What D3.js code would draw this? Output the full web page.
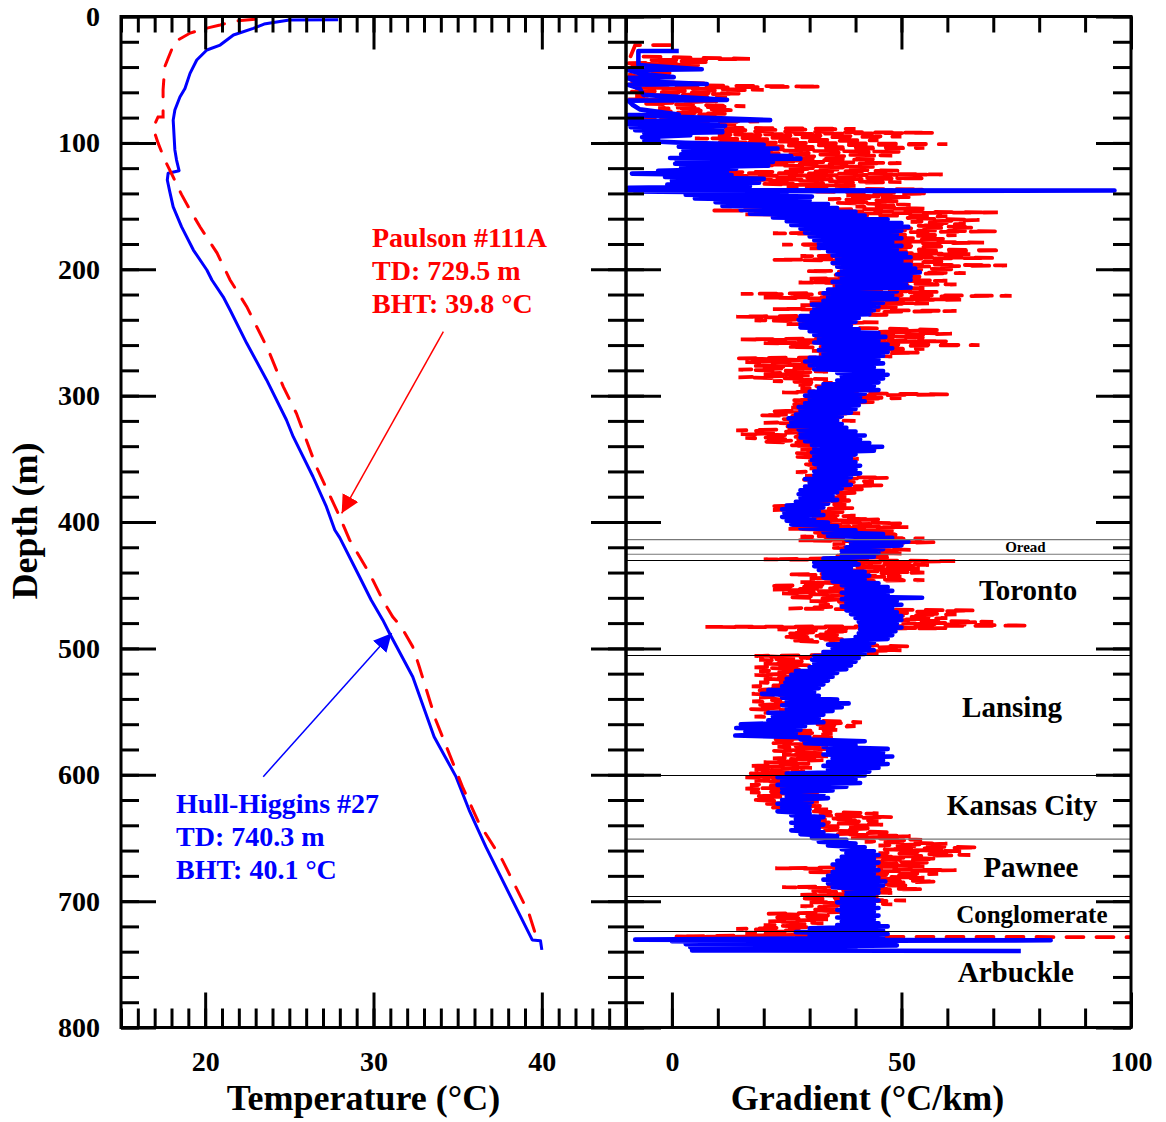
<!DOCTYPE html>
<html>
<head>
<meta charset="utf-8">
<script src="https://cdn.jsdelivr.net/npm/d3@7"></script>
<style>
  body { margin: 0; background: #fff; }
</style>
</head>
<body>
<div id="chart"></div>
<script>
// ---- data (depth in m first, value second) ----
const depthTicks = [0, 100, 200, 300, 400, 500, 600, 700, 800]
const tempTicks = [20, 30, 40]
const gradTicks = [0, 50, 100]

// temperature logs [depth, degC]
const hullTemp = [[2.5,27.9],[2.8,25.0],[6,23.5],[9.4,22.86],[14.6,21.68],[22.6,20.89],[26.5,20.1],[34.4,19.5],[45,19.1],[57,18.8],[63.7,18.5],[74,18.2],[82,18.1],[105.6,18.2],[113.6,18.3],[122,18.45],[124,17.8],[129.4,17.75],[138.8,17.9],[150.6,18.1],[166.5,18.6],[184.8,19.3],[200.6,20.1],[208.5,20.4],[221.8,21.07],[232.2,21.48],[258.6,22.47],[287.6,23.65],[319.3,24.83],[332.5,25.23],[364,26.4],[387.9,27.2],[406.3,27.7],[412.6,28.0],[443.3,29.17],[461.7,29.86],[477.5,30.55],[488,30.95],[522.4,32.33],[569.9,33.6],[601.5,34.9],[627.9,35.68],[656.9,36.67],[730.7,39.43],[731.3,39.92],[738.6,40.0]]

const paulsonTemp = [[2.2,22.96],[3.6,21.78],[6.7,20.89],[9.9,19.88],[13.1,19.11],[20,18.2],[33,17.8],[39.7,17.6],[58,17.5],[79.5,17.5],[79.5,17.2],[88.2,16.9],[100,17.2],[113.5,17.6],[127,18.1],[141,18.6],[150.7,19.0],[166.6,19.7],[187,20.7],[208.5,21.48],[229.6,22.47],[263.9,23.75],[292.9,24.64],[314,25.42],[356.2,26.6],[393.1,27.9],[414.2,28.58],[440.6,29.76],[461.7,30.55],[475,31.14],[482.8,31.64],[498.7,32.33],[514.5,32.72],[556.7,33.7],[609.4,35.28],[638.4,36.27],[667.4,37.65],[709.6,39.23],[729.4,39.7]]

// gradient logs [depth, degC/km]
const hullGrad = [[27.3,1.5],[27.3,-7.3],[38.4,-7.3],[41.8,6.5],[42.4,-9.5],[45.5,-6.5],[48,0.4],[48.6,-9.8],[51,-8],[53.4,7.6],[54,-9.5],[57,-7],[62,-6.2],[66,12],[66.6,-9.5],[70,-8.5],[73.5,-7],[77.5,1.5],[78,-9.5],[82,21.4],[82.8,-10],[84,10],[85,-10],[86.5,11.6],[87.5,-9],[89,11],[90,-8],[91.5,11],[92.5,-6],[94,4],[95.5,-6.5],[97,-3],[98.5,-6],
[100,3],[101.5,20],[103,1.5],[104.5,23],[106,2.5],[107.5,21],[109,2],[110.5,26],[112,-0.4],[112.5,28],[113.5,1],[115,22],[116.5,0.7],[118,21],[119.5,2],[120.5,14],[122,-3],[123,12],[124.3,-8.7],[125.5,13],[127,-1.5],[128.5,20],[130,0],[131.5,19],[133,-1],[134.3,17],[135.5,-9.5],[136.5,14],[137.5,-9.5],[137.7,96.4],[138.5,-8],[139.5,25],
[141,3],[142.5,30.5],[144,5],[145.5,30],[147,9.5],[148.5,34],[150,11],[151.5,36],[153,15],[154.5,40],[156,17],[157.5,42],[159,22],[160.5,47],[162,25],[163.5,50],[165,26],[166.5,51.5],[168,28],[169.5,50],[171,29],[172.5,49],[174,30],[175.5,50],[177,31],[178.5,48],[180,32],[181.5,50],[183,32],[184.5,49],[186,34],[187.5,51],[189,35],[190.5,52],[192,36],[193.5,50],[195,35],[196.5,52],[198,36],[199.5,53],
[201,37],[202.5,54],[204,36],[205.5,52],[207,37],[208.5,52],[210,35],[211.5,51],[213,36],[214.5,52],[216,34],[217.5,49],[219,33],[220.5,48],[222,34],[223.5,49],[225,33],[226.5,46],[228,30.5],[229.5,45],[231,31],[232.5,44],[234,30.5],[235.5,43],[237,28],[238.5,40.7],[240,27.6],[241.5,40],[243,28],[244.5,39],[246,28],[247.5,40.7],[249,30],[250.5,45],[252,31],[253.5,46.5],[255,32],[256.5,45],[258,31],[259.5,47],
[261,33],[262.5,48],[264,32],[265.5,47],[267,33],[268.5,46],[270,30],[271.5,45],[273,29],[274.5,46],[276,30],[277.5,44],[279,31],[280.5,46],[282,36],[283.5,47],[285,37],[286.5,46],[288,36],[289.5,45],[291,33],[292.5,44],[294,32],[295.5,45],[297,30],[298.5,42],
[300,29],[301.5,41],[303,30],[304.5,42],[306,29],[307.5,40.7],[309,27.6],[310.5,40],[312,28],[313.5,39],[315,27],[316.5,37],[318,25.4],[319.5,36],[321,26],[322.5,37],[324,25.5],[325.5,38],[327,27.6],[328.5,40],[330,28],[331.5,42],[333,28],[334.5,41],[336,29],[337.5,43],[339,30.5],[340.5,45.8],[342,31],[343.5,44],[345,30.5],[346.5,40],[348,31],[349.5,39],
[351,30.5],[352.5,40],[354,31],[355.5,41],[357,32],[358.5,40],[360,31],[361.5,41],[363,31],[364.5,39],[366,29],[367.5,38],[369,30],[370.5,39],[372,29],[373.5,37],[375,28],[376.5,36],[378,27.6],[379.5,35],[381,28],[382.5,36],[384,27],[385.5,34],[387,25],[388.5,33],[390,24],[391.5,32],[393,24.5],[394.5,33],[396,24],[397.5,31],[399,25],
[400.5,34],[402,26],[403.5,36],[405,28],[406.5,40],[408,33],[409.5,46],[411,34],[412.5,48],[414,38],[415.5,51.5],[417,39],[418.5,50],[420,38],[421.5,46],[423,37],[424.5,45],[426,37],[427.5,44],[429,33],[430.5,40],[432,31],[433.5,40.7],[435,31],[436.5,39],[438,32],[439.5,42],[441,33],[442.5,43],[444,33],[445.5,42],[447,35],[448.5,45],
[450,37],[451.5,47],[453,38],[454.5,48],[456,37],[457.5,47],[459,38],[460,54.5],[461,37],[462.5,49],[464,38],[465.5,50],[467,37],[468.5,48],[470,38],[471.5,49],[473,39],[474.5,50],[476,40],[477.5,50],[479,40.7],[480.5,49],[482,41],[483.5,50],[485,41],[486.5,48.7],[488,40.7],[489.5,48],[491,40],[492.5,47],[494,37],[495.5,44],[497,34],[498.5,43],
[500,35],[501.5,44],[503,33],[504.5,42],[506,31],[507.5,40.7],[509,30.5],[510.5,40],[512,31],[513.5,39],[515,30],[516.5,38],[518,27],[519.5,36],[521,26],[522.5,35],[524,25],[525.5,34],[527,24.7],[528.5,33],[530,24],[531.5,32],[533,21],[534.5,31],[536,19.6],[537.5,32],[539,24],[540.5,36],[542,25],[543.5,38.5],[545,24],[546.5,37],[548,25],[549.5,35],
[551,21],[552.5,33],[554,22],[555.5,32],[557,21],[558.5,33],[560,15],[561.5,29],[563,14],[564.5,28],[566,16],[567.5,27],[569,13.8],[570.5,30],[572,28],[573.5,42],[575,29],[576.5,40],[578,33],[579.5,47],[581,34],[582.5,46],[584,33],[585.5,48],[587,35],[588.5,46],[590,34],[591.5,47],[593,33],[594.5,45],[596,34],[597.5,43],[599,25],
[600.5,42],[602,23],[603.5,40],[605,24],[606.5,41],[608,23],[609.5,38],[611,24],[612.5,35],[614,24],[615.5,33],[617,25],[618.5,34],[620,24],[621.5,30.5],[623,23],[624.5,30],[626,24],[627.5,30],[629,23],[630.5,30],[632,26],[633.5,33],[635,27],[636.5,32],[638,26],[639.5,33],[641,27],[642.5,32],[644,26],[645.5,33],[647,28],[648.5,36],
[650,30.5],[651.5,38],[653,32],[654.5,40],[656,34],[657.5,42],[659,37],[660.5,44],[662,38],[663.5,45],[665,37],[666.5,44],[668,36],[669.5,45],[671,35],[672.5,44],[674,36],[675.5,45],[677,35],[678.5,44],[680,34],[681.5,45],[683,33],[684.5,46.5],[686,34],[687.5,46],[689,35],[690.5,45],[692,38],[693.5,45],[695,38],[696.5,44],[698,37],[699.5,45],
[701,36],[702.5,44],[704,37],[705.5,45],[707,36],[708.5,44],[710,37],[711.5,45],[713,36],[714.5,44],[716,37],[717.5,45],[719,36],[720,47],[721.5,30],[723,46],[724.5,27],[726,47],[727.5,30],[729,46],[730.5,-8],[731,82.5],[731.8,0],[733,48],[734,3],[735,49],[736.5,4],[738,40],[739,4.4],[739.5,76]]

const paulsonGrad = [[22.6,-0.4],[22.6,-8],[31.5,-9],[33.5,17],[34.5,-5],[36,8],[37,-9.5],[38.5,6],[40,-9],[42.5,-5],[45,0],[46,-9.5],[48.5,-6],[51,-9],[53,8],[54,-9.5],[55.5,32.7],[56.5,-8],[58,20],[59.5,-9.5],[61,15],[62.5,-8],[64,12],[65.5,-9.5],[67,10],[69,-6],[71,16],[72.5,-3],[74,14],[75.5,-6],[77,12],[79,-9.5],[80.5,10],[82,-9.5],[83,19],[84.5,-7],[86,14],[87.5,-2],[89,40],[90.5,4],[92,57],[93.5,10],[95,50],[96.5,5],[98,45],[99.5,10],
[101,60],[102.5,15],[104,55],[105.5,8],[107,50],[108.5,18],[110,48],[111.5,9.4],[113,45],[114.5,20],[116,50],[117.5,15],[119,44],[120.5,25],[122,50],[123.5,3],[125,59],[126.5,0],[128,55],[129.5,15],[131,50],[132.5,20],[134,40],[135.5,25],[137,55],[138.5,30],[140,56],[141.5,38],[143,52],[144.5,34],[146,50],[147.5,36],[149,52],[150.5,40],[152,55],[153.5,9],[155,71],[156.5,16],[158,60],[159.5,51],[161,67],[162.5,52],[164,64],[165.5,53],[167,66],[168.5,30],[170,71],[171.5,22],[173,62],[174.5,40],[176,60],[177.5,45],[179,68],[180.5,24],[182,60],[183.5,30],[185,72],[186.5,40],[188,65],[189.5,28],[191,70],[192.5,22],[194,60],[195.5,35],[197,73],[198.5,40],
[200,62],[201.5,29],[203,64],[204.5,35],[206,55],[207.5,30],[209,60],[210.5,27.6],[212,62],[213.5,35],[215,55],[216.5,40],[218,58],[219.5,15],[221,74],[222.5,20],[224,63],[225.5,30],[227,56],[228.5,28],[230,50],[231.5,22],[233,62],[234.5,30],[236,48],[237.5,14],[239,40],[240.5,18],[242,45],[243.5,25],[245,35],[246.5,41],[248,58],[249.5,45],[251,61],[252.5,42],[254,55],[255.5,15],[257,60],[258.5,20],[260,67],[261.5,25],[263,55],[264.5,30.5],[266,54],[267.5,32],[269,48],[270.5,14.5],[272,30],[273.5,16],[275,35],[276.5,18],[278,32],[279.5,14.5],[281,34],[282.5,20],[284,30],[285.5,14.5],[287,34],[288.5,22],[290,35],[291.5,27.6],[293,34],[294.5,28],[296,35],[297.5,24],[299,60],
[300.5,30],[302,50],[303.5,26],[305,45],[306.5,25.4],[308,33.4],[309.5,26],[311,32],[312.5,22],[314,41],[315.5,19],[317,38],[318.5,24],[320,40],[321.5,20],[323,36],[324.5,25],[326,35],[327.5,14],[329,30],[330.5,15],[332,35.6],[333.5,16],[335,30],[336.5,20],[338,35],[339.5,25.4],[341,45.8],[342.5,28],[344,42],[345.5,27],[347,40],[348.5,27],[350,40.7],[351.5,29],[353,38],[354.5,28],[356,40],[357.5,30],[359,39],[360.5,27],[362,40.7],[363.5,29],[365,47],[366.5,28],[368,44],[369.5,31],[371,46],[372.5,30],[374,42],[375.5,31],[377,40],[378.5,29],[380,38],[381.5,30],[383,40],[384.5,28],[386,38],[387.5,21],[389,40],[390.5,22],[392,38],[393.5,25],[395,40],[396.5,30],[398,45],[399.5,28],
[401,50],[402.5,26],[404,51.5],[405.5,25.4],[407,48],[408.5,30],[410,50],[411.5,28],[413,55],[414.5,27.6],[416,57],[417.5,35],[419,50],[420.5,35],[422,52],[423.5,38],[425,50],[426.5,35],[428,48],[429.5,20],[431,61.7],[432.5,36],[434,56],[435.5,40],[437,54],[438.5,38],[440,55],[441.5,25.4],[443,50],[444.5,30],[446,55],[447.5,28],[449,42],[450.5,21],[452,40],[453.5,22],[455,38],[456.5,24],[458,40],[459.5,25],[461,38],[462.5,30],[464,45],[465.5,32],[467,35.6],[468.5,25.4],[470,66],[471.5,45.8],[473,62],[474.5,48],[476,60],[477.5,48],[479,70],[480.5,50],[482,78],[483,7.3],[484,60],[485,23],[486.5,39],[488,25],[489.5,37],[491,24],[492.5,38],[494,26],[495.5,36],[497,40],[498.5,51.5],
[500,38],[501.5,50],[503,35],[504.5,45],[506,18],[507.5,30.5],[509,19],[510.5,29],[512,20],[513.5,30],[515,18],[516.5,28],[518,19],[519.5,30.5],[521,18],[522.5,29],[524,20],[525.5,30],[527,19],[528.5,28],[530,17.4],[531.5,26],[533,18],[534.5,25],[536,17.4],[537.5,26],[539,19],[540.5,24],[542,17.5],[543.5,26],[545,18],[546.5,28],[548,17],[549.5,30],[551,20],[552.5,28],[554,18],[555.5,32],[557,30.5],[558.5,41.4],[560,31],[561.5,40],[563,32],[564.5,36],[566,22],[567.5,35],[569,24],[570.5,36],[572,22],[573.5,34],[575,21.8],[576.5,34],[578,23],[579.5,34.9],[581,22],[582.5,33],[584,24],[585.5,34],[587,22],[588.5,33],[590,20],[591.5,30],[593,17.4],[594.5,30.5],[596,18],[597.5,29],[599,17],
[600.5,30],[602,16],[603.5,28],[605,18],[606.5,30],[608,17],[609.5,29],[611,16],[612.5,30],[614,17],[615.5,32],[617,18],[618.5,34],[620,17],[621.5,32],[623,20],[624.5,33],[626,22],[627.5,34],[629,30.5],[630.5,45],[632,32],[633.5,48],[635,31],[636.5,45],[638,32],[639.5,46],[641,31],[642.5,44],[644,33],[645.5,48],[647,36],[648.5,52],[650,39],[651.5,54.5],[653,42],[654.5,60],[656,45],[657.5,67],[659,46],[660.5,63],[662,45],[663.5,65],[665,44],[666.5,58],[668,40],[669.5,56],[671,42],[672.5,55],[674,22.5],[675.5,62],[677,30],[678.5,58],[680,40.7],[681.5,55],[683,41],[684.5,58],[686,42],[687.5,52],[689,24],[690.5,55],[692,30],[693.5,48],[695,28],[696.5,45],[698,27.6],[699.5,51],
[701,30],[702.5,48],[704,28],[705.5,40],[707,30],[708.5,38],[710,21],[711.5,35],[713,22],[714.5,34],[716,21],[717.5,33],[719,20],[720.5,30],[722,14],[723.5,28],[725,16],[726.5,30],[728,0.7],[728.5,100]]

// formation boundaries (m)
const faintTops = [414, 425.5, 651]
const formationTops = [430, 505, 600, 696, 724]
const formationNames = ['Oread', 'Toronto', 'Lansing', 'Kansas City', 'Pawnee', 'Conglomerate', 'Arbuckle']
const formationLabelDepth = [419.8, 453.8, 546.8, 624.5, 673.6, 711, 756.7]
const formationLabelGrad = [77, 77.6, 74.1, 76.3, 78.2, 78.4, 74.9]

const paulsonNote = ['Paulson #111A', 'TD: 729.5 m', 'BHT: 39.8 °C']
const hullNote = ['Hull-Higgins #27', 'TD: 740.3 m', 'BHT: 40.1 °C']

// ---- layout ----
const W = 1166, H = 1122
const FONT = '"Liberation Serif", "Times New Roman", serif'
const RED = '#ff0000', BLUE = '#0000ff'
const topY = 16.5, bottomY = 1027.5
const leftX = [121, 626], rightX = [626, 1131]

var yDepth = d3.scaleLinear().domain([0, 800]).range([topY, bottomY])
var xTemp = d3.scaleLinear().domain([15, 45]).range(leftX)
var xGrad = d3.scaleLinear().domain([-10, 100]).range(rightX)

var svg = d3.select('#chart').append('svg')
    .attr('width', W)
    .attr('height', H)
    .style('font-family', FONT)
    .style('font-weight', 'bold')

var defs = svg.append('defs')
defs.append('clipPath').attr('id', 'clipL').append('rect')
    .attr('x', leftX[0]).attr('y', topY)
    .attr('width', leftX[1] - leftX[0]).attr('height', bottomY - topY)
defs.append('clipPath').attr('id', 'clipR').append('rect')
    .attr('x', rightX[0]).attr('y', topY)
    .attr('width', rightX[1] - rightX[0]).attr('height', bottomY - topY)

function addMarker(id, col) {
    defs.append('marker')
        .attr('id', id)
        .attr('viewBox', '0 0 18 18')
        .attr('refX', 18).attr('refY', 9)
        .attr('markerWidth', 18).attr('markerHeight', 18)
        .attr('markerUnits', 'userSpaceOnUse')
        .attr('orient', 'auto')
        .append('path').attr('d', 'M0,0 L18,9 L0,18 Z').attr('fill', col)
}
addMarker('headRed', RED)
addMarker('headBlue', BLUE)

// ---- curves ----
var tempLine = d3.line().x(d => xTemp(d[1])).y(d => yDepth(d[0]))
var gradLine = d3.line().x(d => xGrad(d[1])).y(d => yDepth(d[0]))

var leftG = svg.append('g').attr('clip-path', 'url(#clipL)')
leftG.append('path').datum(hullTemp)
    .attr('d', tempLine).attr('fill', 'none')
    .attr('stroke', BLUE).attr('stroke-width', 3).attr('stroke-linejoin', 'round')
leftG.append('path').datum(paulsonTemp)
    .attr('d', tempLine).attr('fill', 'none')
    .attr('stroke', RED).attr('stroke-width', 3)
    .attr('stroke-dasharray', '17,14').attr('stroke-linecap', 'round')

var rightG = svg.append('g').attr('clip-path', 'url(#clipR)')
rightG.append('path').datum(paulsonGrad)
    .attr('d', gradLine).attr('fill', 'none')
    .attr('stroke', RED).attr('stroke-width', 3.8)
    .attr('stroke-dasharray', '17,13').attr('stroke-linecap', 'round')
rightG.append('path').datum(hullGrad)
    .attr('d', gradLine).attr('fill', 'none')
    .attr('stroke', BLUE).attr('stroke-width', 4.6).attr('stroke-linejoin', 'round')

// formation tops
rightG.selectAll('line.faint').data(faintTops).enter().append('line')
    .attr('class', 'faint')
    .attr('x1', rightX[0]).attr('x2', rightX[1])
    .attr('y1', d => yDepth(d)).attr('y2', d => yDepth(d))
    .attr('stroke', '#777').attr('stroke-width', 1.2)
rightG.selectAll('line.top').data(formationTops).enter().append('line')
    .attr('class', 'top')
    .attr('x1', rightX[0]).attr('x2', rightX[1])
    .attr('y1', d => Math.round(yDepth(d)) + 0.5).attr('y2', d => Math.round(yDepth(d)) + 0.5)
    .attr('stroke', '#000').attr('stroke-width', 1)

var labelSize = name => name == 'Oread' ? 15 : (name == 'Conglomerate' ? 25 : 29)
svg.append('g').selectAll('text').data(formationNames).enter().append('text')
    .attr('x', (d, i) => xGrad(formationLabelGrad[i]))
    .attr('y', (d, i) => yDepth(formationLabelDepth[i]))
    .attr('dy', '0.33em')
    .attr('text-anchor', 'middle')
    .attr('font-size', d => labelSize(d))
    .attr('fill', '#000')
    .text(d => d)

// ---- annotations ----
function note(lines, col, t, d) {
    svg.append('g').selectAll('text').data(lines).enter().append('text')
        .attr('x', xTemp(t))
        .attr('y', (s, i) => yDepth(d) + i * 33)
        .attr('font-size', 28)
        .attr('fill', col)
        .text(s => s)
}
note(paulsonNote, RED, 29.91, 182.2)
note(hullNote, BLUE, 18.27, 630.2)

svg.append('line')
    .attr('x1', xTemp(34.15)).attr('y1', yDepth(249.4))
    .attr('x2', xTemp(28.11)).attr('y2', yDepth(393.1))
    .attr('stroke', RED).attr('stroke-width', 1.5)
    .attr('marker-end', 'url(#headRed)')
svg.append('line')
    .attr('x1', xTemp(23.45)).attr('y1', yDepth(601.5))
    .attr('x2', xTemp(31.08)).attr('y2', yDepth(488.1))
    .attr('stroke', BLUE).attr('stroke-width', 1.5)
    .attr('marker-end', 'url(#headBlue)')

// ---- axes ----
const minorDepth = d3.range(0, 801, 20)
const minorTemp = d3.range(15, 46, 1)
const minorGrad = d3.range(-10, 101, 10)

function drawAxis(axis, tx, ty, values, size, labels, pad) {
    let g = svg.append('g')
        .attr('transform', `translate(${tx},${ty})`)
        .call(axis.tickValues(values).tickSizeInner(size).tickSizeOuter(0)
            .tickPadding(pad || 0).tickFormat(labels ? d3.format('d') : ''))
    g.select('.domain').remove()
    g.selectAll('.tick line').attr('stroke', '#000').attr('stroke-width', 3)
    g.attr('font-family', FONT).attr('font-size', 28).attr('font-weight', 'bold')
    g.selectAll('.tick text').attr('fill', '#000')
    return g
}

// left panel
drawAxis(d3.axisLeft(yDepth), leftX[0], 0, minorDepth, -18, false)
drawAxis(d3.axisLeft(yDepth), leftX[0], 0, depthTicks, -35, true, 21)
drawAxis(d3.axisRight(yDepth), leftX[1], 0, minorDepth, -18, false)
drawAxis(d3.axisRight(yDepth), leftX[1], 0, depthTicks, -35, false)
drawAxis(d3.axisTop(xTemp), 0, topY, minorTemp, -16, false)
drawAxis(d3.axisTop(xTemp), 0, topY, tempTicks, -33, false)
drawAxis(d3.axisBottom(xTemp), 0, bottomY, minorTemp, -19, false)
drawAxis(d3.axisBottom(xTemp), 0, bottomY, tempTicks, -35, true, 24)

// right panel
drawAxis(d3.axisLeft(yDepth), rightX[0], 0, minorDepth, -18, false)
drawAxis(d3.axisLeft(yDepth), rightX[0], 0, depthTicks, -35, false)
drawAxis(d3.axisRight(yDepth), rightX[1], 0, minorDepth, -18, false)
drawAxis(d3.axisRight(yDepth), rightX[1], 0, depthTicks, -35, false)
drawAxis(d3.axisTop(xGrad), 0, topY, minorGrad, -16, false)
drawAxis(d3.axisTop(xGrad), 0, topY, gradTicks, -33, false)
drawAxis(d3.axisBottom(xGrad), 0, bottomY, minorGrad, -19, false)
drawAxis(d3.axisBottom(xGrad), 0, bottomY, gradTicks, -35, true, 24)

// frames
;[leftX, rightX].forEach(r => {
    svg.append('rect')
        .attr('x', r[0]).attr('y', topY)
        .attr('width', r[1] - r[0]).attr('height', bottomY - topY)
        .attr('fill', 'none').attr('stroke', '#000').attr('stroke-width', 3)
})

// titles
svg.append('text')
    .attr('transform', 'translate(37,521) rotate(-90)')
    .attr('text-anchor', 'middle').attr('font-size', 36)
    .text('Depth (m)')
svg.append('text')
    .attr('x', 363.5).attr('y', 1110)
    .attr('text-anchor', 'middle').attr('font-size', 36)
    .text('Temperature (°C)')
svg.append('text')
    .attr('x', 867.5).attr('y', 1110)
    .attr('text-anchor', 'middle').attr('font-size', 36)
    .text('Gradient (°C/km)')
</script>
</body>
</html>
